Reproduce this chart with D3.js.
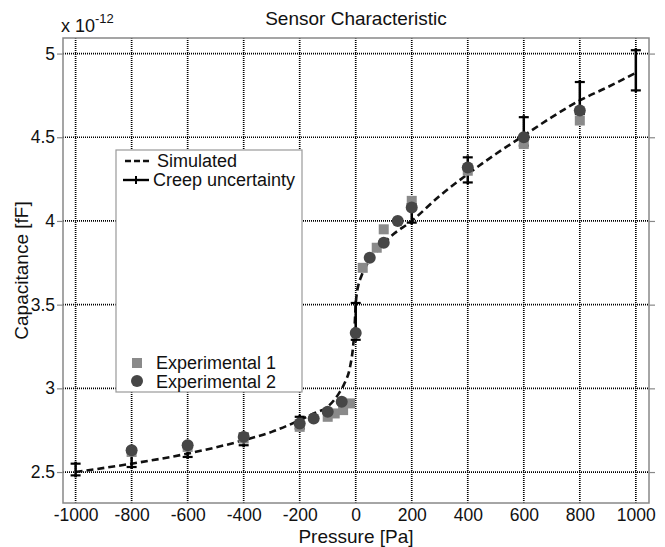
<!DOCTYPE html>
<html>
<head>
<meta charset="utf-8">
<script src="https://cdn.jsdelivr.net/npm/d3@7"></script>
<style>
  body { margin: 0; background: #fff; }
  svg text { font-family: "Liberation Sans", Arial, sans-serif; fill: #111; }
</style>
</head>
<body>
<div id="chart"></div>
<script>
// tick values
var pressureTicks = [-1000, -800, -600, -400, -200, 0, 200, 400, 600, 800, 1000];
var capTicks = [2.5, 3, 3.5, 4, 4.5, 5];

// simulated curve (x 1e-12 F)
var simP = [-1000, -800, -600, -400, -300, -200, -150, -100, -60, -40, -20, -10, -5, 0, 5, 10, 20, 40, 75, 120, 200, 300, 400, 500, 600, 700, 800, 900, 1000];
var simC = [2.50, 2.55, 2.61, 2.69, 2.74, 2.81, 2.85, 2.89, 2.97, 3.03, 3.13, 3.24, 3.34, 3.50, 3.58, 3.62, 3.67, 3.74, 3.82, 3.90, 4.00, 4.15, 4.28, 4.40, 4.51, 4.62, 4.72, 4.80, 4.885];

// creep uncertainty bars
var errP = [-1000, -800, -600, -400, -200, 0, 200, 400, 600, 800, 1000];
var errLo = [2.48, 2.53, 2.59, 2.66, 2.76, 3.29, 3.99, 4.23, 4.45, 4.64, 4.78];
var errHi = [2.55, 2.63, 2.66, 2.73, 2.83, 3.51, 4.10, 4.38, 4.62, 4.83, 5.02];

// experimental 1 (squares)
var exp1P = [-800, -600, -400, -200, -100, -75, -45, -20, 25, 75, 100, 200, 400, 600, 800];
var exp1C = [2.62, 2.65, 2.70, 2.77, 2.83, 2.85, 2.87, 2.91, 3.72, 3.84, 3.95, 4.12, 4.30, 4.46, 4.60];

// experimental 2 (circles)
var exp2P = [-800, -600, -400, -200, -150, -100, -50, 0, 50, 100, 150, 200, 400, 600, 800];
var exp2C = [2.63, 2.66, 2.71, 2.79, 2.82, 2.86, 2.92, 3.33, 3.78, 3.87, 4.00, 4.08, 4.32, 4.50, 4.66];

var W = 665, H = 547;
var pL = 63, pT = 38, pR = 649, pB = 503;

var svg = d3.select('#chart').append('svg')
  .attr('width', W).attr('height', H);

var x = d3.scaleLinear().domain([-1045, 1047]).range([pL, pR]);
var y = d3.scaleLinear().domain([2.315, 5.093]).range([pB, pT]);

// grid
var grid = svg.append('g');
grid.selectAll('line.v').data(pressureTicks).enter().append('line')
  .attr('x1', function(d) { return x(d); }).attr('x2', function(d) { return x(d); })
  .attr('y1', pT).attr('y2', pB)
  .attr('stroke', '#000').attr('stroke-width', 1.7).attr('stroke-dasharray', '1,1');
grid.selectAll('line.h').data(capTicks).enter().append('line')
  .attr('x1', pL).attr('x2', pR)
  .attr('y1', function(d) { return y(d); }).attr('y2', function(d) { return y(d); })
  .attr('stroke', '#000').attr('stroke-width', 1.7).attr('stroke-dasharray', '1,1');

// axes
var yAxisL = d3.axisLeft(y).tickValues(capTicks).tickSize(6).tickPadding(2)
  .tickFormat(function(d) { return String(d); });
var gl = svg.append('g').attr('transform', 'translate(' + pL + ',0)').call(yAxisL);
var yAxisR = d3.axisRight(y).tickValues(capTicks).tickSize(6).tickFormat('');
var gr = svg.append('g').attr('transform', 'translate(' + pR + ',0)').call(yAxisR);
var xAxis = d3.axisBottom(x).tickValues(pressureTicks).tickSize(0).tickPadding(6)
  .tickFormat(function(d) { return String(d); });
var gb = svg.append('g').attr('transform', 'translate(0,' + pB + ')').call(xAxis);
[gl, gr, gb].forEach(function(g) {
  g.select('.domain').remove();
  g.selectAll('.tick line').attr('stroke', '#888').attr('stroke-width', 1.2);
  g.selectAll('.tick text').attr('font-size', 17.5).attr('fill', '#111')
    .style('font-family', '"Liberation Sans", Arial, sans-serif');
});

// box
svg.append('rect').attr('x', pL).attr('y', pT)
  .attr('width', pR - pL).attr('height', pB - pT)
  .attr('fill', 'none').attr('stroke', '#888').attr('stroke-width', 1.5);

// simulated curve
var simData = simP.map(function(p, i) { return [p, simC[i]]; });
var line = d3.line()
  .x(function(d) { return x(d[0]); })
  .y(function(d) { return y(d[1]); })
  .curve(d3.curveMonotoneX);
svg.append('path').datum(simData).attr('d', line)
  .attr('fill', 'none').attr('stroke', '#111').attr('stroke-width', 2.6)
  .attr('stroke-dasharray', '7,4');

// error bars
var eb = svg.append('g').selectAll('g').data(errP).enter().append('g');
eb.append('line')
  .attr('x1', function(d) { return x(d); }).attr('x2', function(d) { return x(d); })
  .attr('y1', function(d, i) { return y(errLo[i]) + 2; }).attr('y2', function(d, i) { return y(errHi[i]) - 2; })
  .attr('stroke', '#000').attr('stroke-width', 2.5);
eb.append('line')
  .attr('x1', function(d) { return x(d) - 5; }).attr('x2', function(d) { return x(d) + 5; })
  .attr('y1', function(d, i) { return y(errLo[i]); }).attr('y2', function(d, i) { return y(errLo[i]); })
  .attr('stroke', '#000').attr('stroke-width', 2.2);
eb.append('line')
  .attr('x1', function(d) { return x(d) - 5; }).attr('x2', function(d) { return x(d) + 5; })
  .attr('y1', function(d, i) { return y(errHi[i]); }).attr('y2', function(d, i) { return y(errHi[i]); })
  .attr('stroke', '#000').attr('stroke-width', 2.2);

// experimental points
svg.append('g').selectAll('rect').data(exp1P).enter().append('rect')
  .attr('x', function(d) { return x(d) - 5; })
  .attr('y', function(d, i) { return y(exp1C[i]) - 5; })
  .attr('width', 10).attr('height', 10).attr('fill', '#8a8a8a');
svg.append('g').selectAll('circle').data(exp2P).enter().append('circle')
  .attr('cx', function(d) { return x(d); })
  .attr('cy', function(d, i) { return y(exp2C[i]); })
  .attr('r', 6).attr('fill', '#464646');

// legend
var lg = svg.append('g');
lg.append('rect').attr('x', 116).attr('y', 150).attr('width', 186).attr('height', 242)
  .attr('fill', '#fff').attr('stroke', '#999').attr('stroke-width', 1.2);
lg.append('line').attr('x1', 125).attr('x2', 151).attr('y1', 161).attr('y2', 161)
  .attr('stroke', '#111').attr('stroke-width', 2.4).attr('stroke-dasharray', '6,3');
lg.append('line').attr('x1', 123).attr('x2', 149).attr('y1', 180).attr('y2', 180)
  .attr('stroke', '#000').attr('stroke-width', 2.4);
lg.append('line').attr('x1', 136).attr('x2', 136).attr('y1', 176).attr('y2', 184)
  .attr('stroke', '#000').attr('stroke-width', 2);
lg.append('rect').attr('x', 132).attr('y', 358).attr('width', 10).attr('height', 10).attr('fill', '#8a8a8a');
lg.append('circle').attr('cx', 137).attr('cy', 381).attr('r', 6).attr('fill', '#464646');
var legText = [['Simulated', 157, 161], ['Creep uncertainty', 153, 180], ['Experimental 1', 156, 363], ['Experimental 2', 156, 382]];
lg.selectAll('text.lt').data(legText).enter().append('text')
  .attr('x', function(d) { return d[1]; }).attr('y', function(d) { return d[2]; })
  .attr('dy', '0.35em').attr('font-size', 18).text(function(d) { return d[0]; });

// titles
svg.append('text').attr('x', (pL + pR) / 2).attr('y', 25).attr('text-anchor', 'middle')
  .attr('font-size', 19).text('Sensor Characteristic');
var mult = svg.append('text').attr('x', pL - 2).attr('y', 32).attr('font-size', 18);
mult.append('tspan').text('x 10');
mult.append('tspan').attr('dy', -9).attr('font-size', 13).text('-12');
svg.append('text').attr('x', (pL + pR) / 2).attr('y', 543).attr('text-anchor', 'middle')
  .attr('font-size', 19).text('Pressure [Pa]');
svg.append('text').attr('transform', 'translate(28,' + ((pT + pB) / 2) + ') rotate(-90)')
  .attr('text-anchor', 'middle').attr('font-size', 19).text('Capacitance [fF]');
</script>
</body>
</html>
